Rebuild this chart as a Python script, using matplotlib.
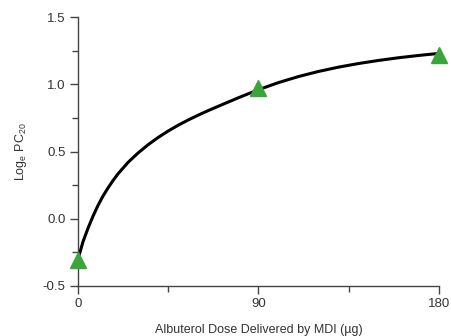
import numpy as np
import matplotlib
matplotlib.use("Agg")
import matplotlib.pyplot as plt
from matplotlib.ticker import MultipleLocator

# observed doses and responses (triangles)
doses = [0, 90, 180]
log_pc20 = [-0.31, 0.97, 1.22]

# fitted curve
curve_x = [0, 2.5, 5, 7.5, 10, 12.5, 15, 17.5, 20, 25, 30, 35, 40, 45, 50, 55, 60,
           65, 70, 80, 90, 100, 110, 120, 130, 140, 150, 160, 170, 180]
curve_y = [-0.30, -0.17, -0.07, 0.02, 0.10, 0.17, 0.23, 0.285, 0.335, 0.42, 0.49,
           0.551, 0.605, 0.653, 0.696, 0.735, 0.771, 0.805, 0.837, 0.90, 0.96,
           1.013, 1.058, 1.096, 1.128, 1.155, 1.178, 1.198, 1.215, 1.23]

plt.rcParams['font.family'] = ['Liberation Sans', 'DejaVu Sans']
txt = '#333333'

fig = plt.figure(figsize=(4.51, 3.36), dpi=100)
ax = fig.add_axes([0.173, 0.149, 0.8, 0.8])

ax.plot(curve_x, curve_y, color='black', lw=2.2, solid_capstyle='round',
        solid_joinstyle='round', zorder=2)
ax.plot(doses, log_pc20, linestyle='none', marker='^', ms=12,
        color='#3aa53a', clip_on=False, zorder=3)

ax.set_xlim(0, 180)
ax.set_ylim(-0.5, 1.5)
ax.xaxis.set_major_locator(MultipleLocator(90))
ax.xaxis.set_minor_locator(MultipleLocator(45))
ax.yaxis.set_major_locator(MultipleLocator(0.5))
ax.yaxis.set_minor_locator(MultipleLocator(0.25))
ax.yaxis.set_major_formatter(matplotlib.ticker.FormatStrFormatter('%.1f'))

for s in ['top', 'right']:
    ax.spines[s].set_visible(False)
for s in ['left', 'bottom']:
    ax.spines[s].set_color('#444444')
    ax.spines[s].set_linewidth(1.0)

ax.tick_params(which='major', length=6, width=1, color='#444444',
               labelsize=9.5, labelcolor=txt, pad=3)
ax.tick_params(which='minor', length=4, width=1, color='#444444')

ax.set_xlabel('Albuterol Dose Delivered by MDI (\u00b5g)', fontsize=9, color=txt, labelpad=10)
ax.set_ylabel(r'Log$_\mathregular{e}$ PC$_\mathregular{20}$', fontsize=9, color=txt, labelpad=10)

fig.savefig('out.png', dpi=100)
